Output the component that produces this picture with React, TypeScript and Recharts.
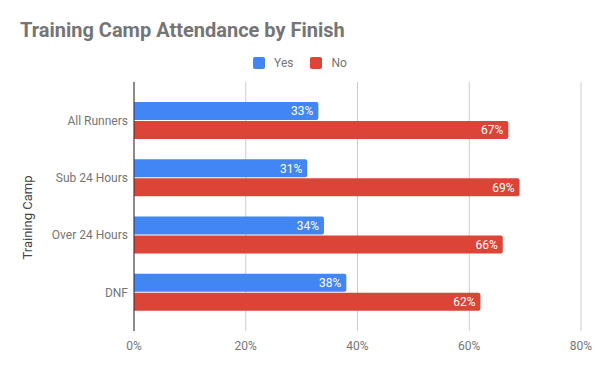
import React from "react";
import {
  BarChart,
  Bar,
  XAxis,
  YAxis,
  CartesianGrid,
  Legend,
  LabelList,
} from "recharts";

const camps = ["All Runners", "Sub 24 Hours", "Over 24 Hours", "DNF"];
const yesPct = [33, 31, 34, 38];
const noPct = [67, 69, 66, 62];
const xTicks = [0, 20, 40, 60, 80];

const BLUE = "#4285F4";
const RED = "#DB4437";
const GRAY = "#757575";
const FONT = "Roboto, sans-serif";

const data = camps.map((name, i) => ({ name, yes: yesPct[i], no: noPct[i] }));

const legendItems = [
  { label: "Yes", color: BLUE },
  { label: "No", color: RED },
];

function LegendContent() {
  return (
    <div
      style={{
        display: "flex",
        justifyContent: "center",
        alignItems: "center",
        fontFamily: FONT,
        fontSize: 12,
        color: GRAY,
      }}
    >
      {legendItems.map((it, i) => (
        <div
          key={it.label}
          style={{ display: "flex", alignItems: "center", marginLeft: i ? 17 : 0 }}
        >
          <span
            style={{
              width: 12,
              height: 12,
              borderRadius: 2,
              background: it.color,
              display: "inline-block",
              marginRight: 9,
            }}
          />
          <span>{it.label}</span>
        </div>
      ))}
    </div>
  );
}

function AxisTitle(props: any) {
  const vb = props.viewBox || {};
  const x = 27;
  const y = vb.y + vb.height / 2 + 11;
  return (
    <text
      x={x}
      y={y}
      transform={`rotate(-90, ${x}, ${y})`}
      textAnchor="middle"
      dominantBaseline="central"
      fill="#444"
      fontFamily={FONT}
      fontSize={13}
    >
      Training Camp
    </text>
  );
}

export default function App() {
  return (
    <div
      style={{
        position: "absolute",
        left: 0,
        top: 0,
        width: 600,
        height: 371,
        background: "#fff",
      }}
    >
      <div
        style={{
          position: "absolute",
          left: 20,
          top: 20,
          fontFamily: FONT,
          fontWeight: 700,
          fontSize: 20,
          lineHeight: "20px",
          color: GRAY,
          whiteSpace: "nowrap",
        }}
      >
        Training Camp Attendance by Finish
      </div>
      <BarChart
        width={600}
        height={371}
        data={data}
        layout="vertical"
        margin={{ top: 82, right: 19, bottom: 0, left: 0 }}
        barSize={18}
        barGap={1}
      >
        <CartesianGrid horizontal={false} vertical={true} stroke="#cccccc" />
        <XAxis
          type="number"
          domain={[0, 80]}
          ticks={xTicks}
          tickFormatter={(v: number) => `${v}%`}
          axisLine={false}
          tickLine={false}
          tickSize={0}
          tickMargin={10}
          height={40}
          tick={{ fontSize: 12, fontFamily: FONT, fill: GRAY }}
        />
        <YAxis
          type="category"
          dataKey="name"
          width={134}
          padding={{ top: 10, bottom: 10 }}
          axisLine={{ stroke: "#333333" }}
          tickLine={false}
          tickSize={0}
          tickMargin={6}
          tick={{ fontSize: 12, fontFamily: FONT, fill: GRAY }}
          label={{ content: AxisTitle }}
        />
        <Legend
          verticalAlign="middle"
          layout="horizontal"
          align="center"
          content={LegendContent}
          wrapperStyle={{ top: 56, left: 0, width: 600 }}
        />
        <Bar dataKey="yes" name="Yes" fill={BLUE} radius={[0, 2, 2, 0]} isAnimationActive={false}>
          <LabelList
            dataKey="yes"
            position="insideRight"
            formatter={(v: any) => `${v}%`}
            fill="#ffffff"
            fontSize={12}
            fontFamily={FONT}
          />
        </Bar>
        <Bar dataKey="no" name="No" fill={RED} radius={[0, 2, 2, 0]} isAnimationActive={false}>
          <LabelList
            dataKey="no"
            position="insideRight"
            formatter={(v: any) => `${v}%`}
            fill="#ffffff"
            fontSize={12}
            fontFamily={FONT}
          />
        </Bar>
      </BarChart>
    </div>
  );
}
